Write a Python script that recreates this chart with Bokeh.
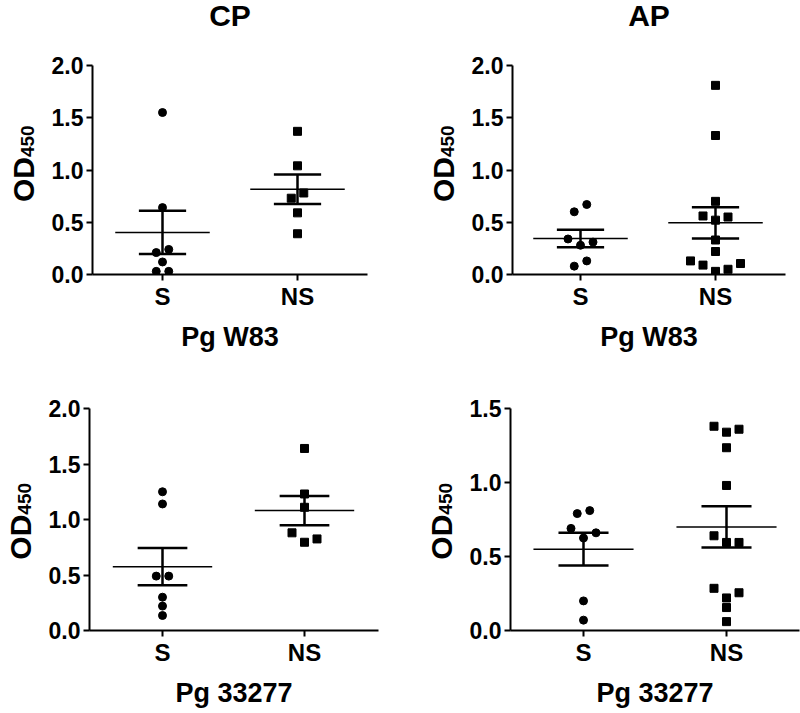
import numpy as np
from bokeh.plotting import figure
from bokeh.models import Range1d, FixedTicker, PrintfTickFormatter
from bokeh.layouts import column, row
from bokeh.core.properties import value
from bokeh.embed import file_html
from bokeh.resources import INLINE

# ---------------- data ----------------
groups = ["S", "NS"]
cp_w83_s = [1.55, 0.64, 0.24, 0.21, 0.12, 0.03, 0.03]
cp_w83_ns = [1.37, 1.04, 0.73, 0.78, 0.59, 0.39]
ap_w83_s = [0.60, 0.67, 0.31, 0.28, 0.34, 0.13, 0.08]
ap_w83_ns = [1.81, 1.33, 0.70, 0.56, 0.52, 0.55, 0.33, 0.22, 0.13, 0.09, 0.105, 0.03, 0.05]
cp_33277_s = [1.25, 1.14, 0.49, 0.49, 0.30, 0.22, 0.135]
cp_33277_ns = [1.64, 1.23, 1.11, 0.88, 0.795, 0.825]
ap_33277_s = [0.81, 0.79, 0.69, 0.66, 0.625, 0.20, 0.07]
ap_33277_ns = [1.38, 1.34, 1.36, 1.235, 0.98, 0.64, 0.595, 0.595, 0.285, 0.255, 0.22, 0.155, 0.06]
y_ticks_2 = [0.0, 0.5, 1.0, 1.5, 2.0]
y_ticks_15 = [0.0, 0.5, 1.0, 1.5]
column_titles = ["CP", "AP"]
strain_labels = ["Pg W83", "Pg 33277"]
y_label_main = "OD"
y_label_sub = "450"

FONT = "Liberation Sans"
STRIP_H = 40      # height of the strip holding the column titles
LAB_W = 44        # width of the strips holding the rotated y labels
COL2 = 420        # page x where the right column's label strip starts


def bare_figure(w, h):
    f = figure(width=w, height=h, x_range=Range1d(0, w), y_range=Range1d(0, h),
               x_axis_type=None, y_axis_type=None,
               output_backend="svg", toolbar_location=None, min_border=0)
    f.title.visible = False
    f.xgrid.visible = False
    f.ygrid.visible = False
    f.outline_line_color = None
    return f


def swarm_offsets(vals, px_per_y, thr=8.5, step=12.5):
    vals = np.asarray(vals, dtype=float)
    order = np.argsort(vals, kind="stable")
    offs = np.zeros(len(vals))
    grps, cur = [], [order[0]]
    for a, b in zip(order[:-1], order[1:]):
        if (vals[b] - vals[a]) * px_per_y < thr:
            cur.append(b)
        else:
            grps.append(cur)
            cur = [b]
    grps.append(cur)
    for g in grps:
        n = len(g)
        if n % 2:
            pattern = [0] + [s * k for k in range(1, n // 2 + 1) for s in (1, -1)]
        else:
            pattern = [s * (k - 0.5) for k in range(1, n // 2 + 1) for s in (-1, 1)]
        for idx, m in zip(g, pattern):
            offs[idx] = m * step
    return offs


def make_panel(vals_s, vals_ns, y_end, yticks, origin, size, frame, tick_px, xlabel):
    ox, oy = origin
    W, H = size
    L, R, T, B = frame
    sx, nx = tick_px
    dx = nx - sx
    x0 = -(sx - L) / dx
    x1 = 1 + (R - nx) / dx
    p = figure(width=W, height=H, x_range=Range1d(x0, x1), y_range=Range1d(0, y_end),
               output_backend="svg", toolbar_location=None,
               min_border_left=int(L - ox), min_border_right=int(ox + W - R),
               min_border_top=int(T - oy), min_border_bottom=int(oy + H - B))
    p.title.visible = False
    p.outline_line_color = None
    p.xgrid.visible = False
    p.ygrid.visible = False

    px_per_x = (R - L) / (x1 - x0)
    px_per_y = (B - T) / y_end

    for ax in (p.xaxis[0], p.yaxis[0]):
        ax.axis_line_width = 2
        ax.major_tick_line_width = 2
        ax.major_tick_out = 6
        ax.major_tick_in = 0
        ax.minor_tick_line_color = None
        ax.major_label_text_font = FONT
        ax.major_label_text_font_style = "bold"
        ax.major_label_text_color = "black"
        ax.axis_line_color = "black"
        ax.major_tick_line_color = "black"
        ax.axis_label_text_font = FONT
        ax.axis_label_text_font_style = "bold"
        ax.axis_label_text_color = "black"

    p.xaxis.ticker = FixedTicker(ticks=[0, 1])
    p.xaxis.major_label_overrides = {0: groups[0], 1: groups[1]}
    p.xaxis.major_label_text_font_size = "24px"
    p.xaxis.major_label_standoff = 2
    p.xaxis.axis_label = xlabel
    p.xaxis.axis_label_text_font_size = "27px"
    p.xaxis.axis_label_standoff = 9

    p.yaxis.ticker = FixedTicker(ticks=yticks)
    p.yaxis.formatter = PrintfTickFormatter(format="%.1f")
    p.yaxis.major_label_text_font_size = "23px"
    p.yaxis.major_label_standoff = 3

    for ci, (vals, marker) in enumerate([(vals_s, "circle"), (vals_ns, "square")]):
        v = np.asarray(vals, dtype=float)
        xs = ci + swarm_offsets(v, px_per_y) / px_per_x
        m = v.mean()
        sem = v.std(ddof=1) / np.sqrt(len(v))
        p.segment(x0=[ci - 0.35], y0=[m], x1=[ci + 0.35], y1=[m],
                  line_color="black", line_width=1.5)
        p.segment(x0=[ci, ci - 0.175, ci - 0.175], y0=[m - sem, m + sem, m - sem],
                  x1=[ci, ci + 0.175, ci + 0.175], y1=[m + sem, m + sem, m - sem],
                  line_color="black", line_width=2.5)
        p.scatter(xs, v, marker=marker, size=8, fill_color="black", line_color="black")
    return p


def make_ylabel(left, row_top, height, frame):
    L, R, T, B = frame
    f = bare_figure(LAB_W, height)
    join = height - ((T + B) / 2 + 15 - row_top)
    f.text(x=[L - 59 - 10.4 - left], y=[join], text=[y_label_main], angle=np.pi / 2,
           text_align="right", text_baseline="middle", text_font=value(FONT),
           text_font_style="bold", text_font_size="30px", text_color="black")
    f.text(x=[L - 58 - 6.6 - left], y=[join], text=[y_label_sub], angle=np.pi / 2,
           text_align="left", text_baseline="middle", text_font=value(FONT),
           text_font_style="bold", text_font_size="19px", text_color="black")
    return f


# frames in page pixels: (left, right, top, bottom)
f1 = (92, 367, 65, 274)
f2 = (512, 785, 65, 274)
f3 = (89, 378, 408, 630)
f4 = (510, 799, 408, 630)
ROW1_TOP, ROW1_H = STRIP_H, 330
ROW2_TOP, ROW2_H = 370, 343
PW_L = COL2 - LAB_W
PW_R = 800 - COL2 - LAB_W

p1 = make_panel(cp_w83_s, cp_w83_ns, 2.0, y_ticks_2, (LAB_W, ROW1_TOP), (PW_L, ROW1_H), f1, (162, 297), strain_labels[0])
p2 = make_panel(ap_w83_s, ap_w83_ns, 2.0, y_ticks_2, (COL2 + LAB_W, ROW1_TOP), (PW_R, ROW1_H), f2, (580, 715), strain_labels[0])
p3 = make_panel(cp_33277_s, cp_33277_ns, 2.0, y_ticks_2, (LAB_W, ROW2_TOP), (PW_L, ROW2_H), f3, (162, 304), strain_labels[1])
p4 = make_panel(ap_33277_s, ap_33277_ns, 1.5, y_ticks_15, (COL2 + LAB_W, ROW2_TOP), (PW_R, ROW2_H), f4, (583, 726), strain_labels[1])

l1 = make_ylabel(0, ROW1_TOP, ROW1_H, f1)
l2 = make_ylabel(COL2, ROW1_TOP, ROW1_H, f2)
l3 = make_ylabel(0, ROW2_TOP, ROW2_H, f3)
l4 = make_ylabel(COL2, ROW2_TOP, ROW2_H, f4)

# strip carrying the column titles, centred over the top frames
strip = bare_figure(800, STRIP_H)
strip.text(x=[(f1[0] + f1[1]) / 2, (f2[0] + f2[1]) / 2], y=[STRIP_H - 15, STRIP_H - 15],
           text=column_titles, text_align="center", text_baseline="middle",
           text_font=value(FONT), text_font_style="bold", text_font_size="30px",
           text_color="black")

layout = column(strip, row(l1, p1, l2, p2), row(l3, p3, l4, p4))
open("out.html", "w").write(file_html(layout, INLINE))
